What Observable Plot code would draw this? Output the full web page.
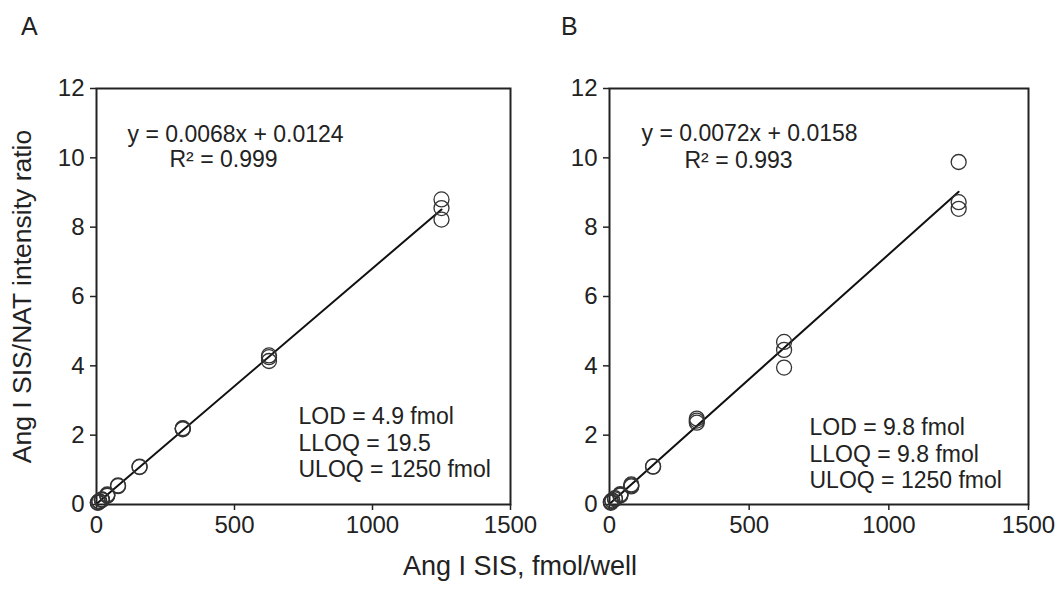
<!DOCTYPE html>
<html><head><meta charset="utf-8">
<script src="https://cdn.jsdelivr.net/npm/d3@7"></script>
<script src="https://cdn.jsdelivr.net/npm/@observablehq/plot@0.6"></script>
<style>
body{margin:0;background:#fff;font-family:"Liberation Sans",Arial,sans-serif;}
#wrap{position:relative;width:1060px;height:590px;overflow:hidden;background:#fff}
.pl{position:absolute;top:0}
.lab{position:absolute;color:#222;font-family:"Liberation Sans",Arial,sans-serif;white-space:nowrap;line-height:1}
</style></head><body><div id="wrap"></div>
<script>
// ---- data ----
const panelLetters = ["A", "B"];
const xTicks = [0, 500, 1000, 1500];
const yTicks = [0, 2, 4, 6, 8, 10, 12];
const yTitle = "Ang I SIS/NAT intensity ratio";
const xTitle = "Ang I SIS, fmol/well";

// Panel A: amounts (fmol/well) and SIS/NAT ratios
const xA = [4.9, 4.9, 9.8, 9.8, 19.5, 19.5, 19.5, 39, 39, 39, 78, 78, 156, 156, 312.5, 312.5, 312.5, 625, 625, 625, 1250, 1250, 1250];
const yA = [0.06, 0.05, 0.08, 0.10, 0.14, 0.15, 0.13, 0.27, 0.25, 0.29, 0.55, 0.53, 1.09, 1.08, 2.19, 2.17, 2.20, 4.30, 4.25, 4.14, 8.80, 8.55, 8.22];
const fitXA = [4.9, 1250];
const fitYA = [0.05, 8.51];
const eqA = "y = 0.0068x + 0.0124";
const r2A = "R² = 0.999";
const limitsA = ["LOD = 4.9 fmol", "LLOQ = 19.5", "ULOQ = 1250 fmol"];

// Panel B
const xB = [4.9, 4.9, 9.8, 9.8, 19.5, 19.5, 39, 39, 39, 78, 78, 78, 156, 156, 312.5, 312.5, 312.5, 625, 625, 625, 1250, 1250, 1250];
const yB = [0.05, 0.08, 0.12, 0.10, 0.18, 0.15, 0.28, 0.30, 0.26, 0.55, 0.52, 0.58, 1.09, 1.10, 2.48, 2.36, 2.42, 4.69, 4.46, 3.95, 9.88, 8.72, 8.53];
const fitXB = [4.9, 1250];
const fitYB = [0.05, 9.02];
const eqB = "y = 0.0072x + 0.0158";
const r2B = "R² = 0.993";
const limitsB = ["LOD = 9.8 fmol", "LLOQ = 9.8 fmol", "ULOQ = 1250 fmol"];

// ---- drawing ----
const FONT = "Liberation Sans, Arial, sans-serif";
const wrap = document.getElementById("wrap");
const plain = d => String(d);

function panel(cfg) {
  const pts = cfg.xs.map((x, i) => ({x, y: cfg.ys[i]}));
  const fit = cfg.fx.map((x, i) => ({x, y: cfg.fy[i]}));
  const marks = [
    Plot.axisX({ticks: xTicks, tickFormat: plain, tickSize: 6, tickPadding: 5, fontSize: 24, label: null, stroke: "#222", strokeWidth: 1.5}),
    Plot.axisY({ticks: yTicks, tickFormat: plain, tickSize: 6, tickPadding: 6, fontSize: 24, stroke: "#222", strokeWidth: 1.5, label: null}),
    Plot.frame({stroke: "#222", strokeWidth: 2}),
    Plot.line(fit, {x: "x", y: "y", stroke: "#111", strokeWidth: 2}),
    Plot.dot(pts, {x: "x", y: "y", r: 7.5, fill: "none", stroke: "#333", strokeWidth: 1.3}),
    Plot.text([cfg.eq], {frameAnchor: "top-left", textAnchor: "start", lineAnchor: "top", dx: cfg.eqDx, dy: cfg.eqDy, fontSize: 23, fill: "#222"}),
    Plot.text([cfg.r2], {frameAnchor: "top-left", textAnchor: "start", lineAnchor: "top", dx: cfg.r2Dx, dy: cfg.r2Dy, fontSize: 23, fill: "#222"}),
    Plot.text([cfg.limits.join("\n")], {frameAnchor: "top-left", textAnchor: "start", lineAnchor: "top", lineHeight: 1.17, dx: cfg.limDx, dy: cfg.limDy, fontSize: 23, fill: "#222"})
  ];
  if (cfg.showTitle) {
    marks.push(Plot.axisY({ticks: [], tickSize: 0, label: yTitle, labelAnchor: "center", labelArrow: "none", labelOffset: 84, fontSize: 26.5, fill: "#222"}));
  }
  const svg = Plot.plot({
    width: 530, height: 590,
    marginLeft: cfg.ml, marginRight: cfg.mr, marginTop: 88, marginBottom: 86,
    x: {domain: [0, 1500]},
    y: {domain: [0, 12]},
    style: {fontFamily: FONT, fontSize: "24px", color: "#222", background: "transparent", overflow: "visible"},
    marks
  });
  svg.classList.add("pl");
  svg.style.left = cfg.left + "px";
  wrap.appendChild(svg);
}

panel({xs: xA, ys: yA, fx: fitXA, fy: fitYA, eq: eqA, r2: r2A, limits: limitsA, showTitle: true,
  left: 0, ml: 96, mr: 20, eqDx: 31, eqDy: 37, r2Dx: 73, r2Dy: 62, limDx: 202, limDy: 316});
panel({xs: xB, ys: yB, fx: fitXB, fy: fitYB, eq: eqB, r2: r2B, limits: limitsB, showTitle: false,
  left: 530, ml: 79, mr: 32, eqDx: 32, eqDy: 36, r2Dx: 75, r2Dy: 63, limDx: 200, limDy: 327});

// panel letters and shared x title
[[panelLetters[0], 21], [panelLetters[1], 561]].forEach(([t, x]) => {
  const d = document.createElement("div");
  d.className = "lab"; d.textContent = t;
  d.style.left = x + "px"; d.style.top = "14px"; d.style.fontSize = "25px";
  wrap.appendChild(d);
});
const xt = document.createElement("div");
xt.className = "lab"; xt.textContent = xTitle;
xt.style.fontSize = "27px"; xt.style.top = "553px"; xt.style.left = "0px"; xt.style.width = "1040px"; xt.style.textAlign = "center";
wrap.appendChild(xt);
</script>
</body></html>
